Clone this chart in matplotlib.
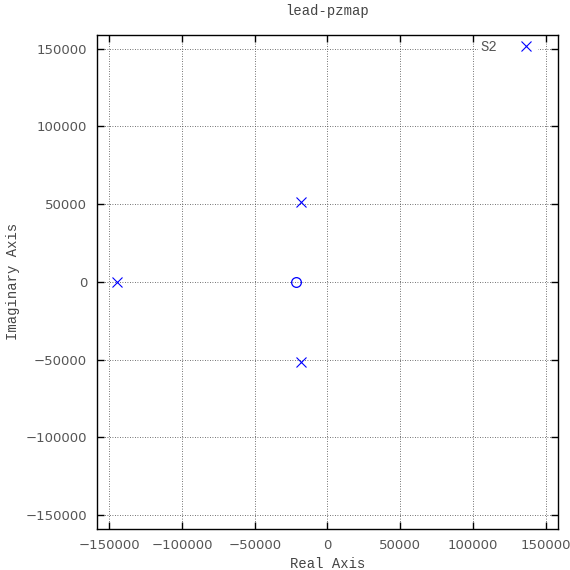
import matplotlib
matplotlib.use('Agg')
import matplotlib.pyplot as plt
import numpy as np

# poles and zeros of the lead compensator system
pole_re = [-144500, -18400, -18400]
pole_im = [0, 51500, -51500]
zero_re = [-21800]
zero_im = [0]

ticks = np.arange(-150000, 150001, 50000)
mono = "Liberation Mono"

fig = plt.figure(figsize=(5.7, 5.7), dpi=100)
ax = fig.add_axes([0.170, 0.072, 0.809, 0.867])

ax.plot(pole_re, pole_im, linestyle="none", marker="x", color="#0000ff",
        markersize=7.5, markeredgewidth=0.8, label="S2", zorder=3)
ax.plot(zero_re, zero_im, linestyle="none", marker="o", color="#0000ff",
        markerfacecolor="none", markersize=7, markeredgewidth=0.9, zorder=3)

ax.set_xlim(-158500, 158500)
ax.set_ylim(-159000, 159000)
ax.set_xticks(ticks)
ax.set_yticks(ticks)
ax.tick_params(direction="in", top=True, right=True, length=5, width=1,
               labelsize=9.5, labelcolor="#555555", pad=7)
ax.grid(True, color="#444444", linestyle=(0, (1, 2)), linewidth=0.6)
for s in ax.spines.values():
    s.set_linewidth(1.0)

ax.set_title("lead-pzmap", fontsize=10, family=mono, color="#444444", pad=14)
ax.set_xlabel("Real Axis", fontsize=10, family=mono, color="#444444", labelpad=4)
ax.set_ylabel("Imaginary Axis", fontsize=10, family=mono, color="#444444", labelpad=4)

leg = ax.legend(loc="upper right", bbox_to_anchor=(0.96, 0.997),
                markerfirst=False, prop={"family": mono, "size": 10},
                handlelength=1.5, handletextpad=1.3, borderaxespad=0.1,
                borderpad=0.15, fancybox=False, framealpha=1)
leg.get_frame().set_edgecolor("none")
for t in leg.get_texts():
    t.set_color("#555555")

plt.savefig("out.png", dpi=100)
